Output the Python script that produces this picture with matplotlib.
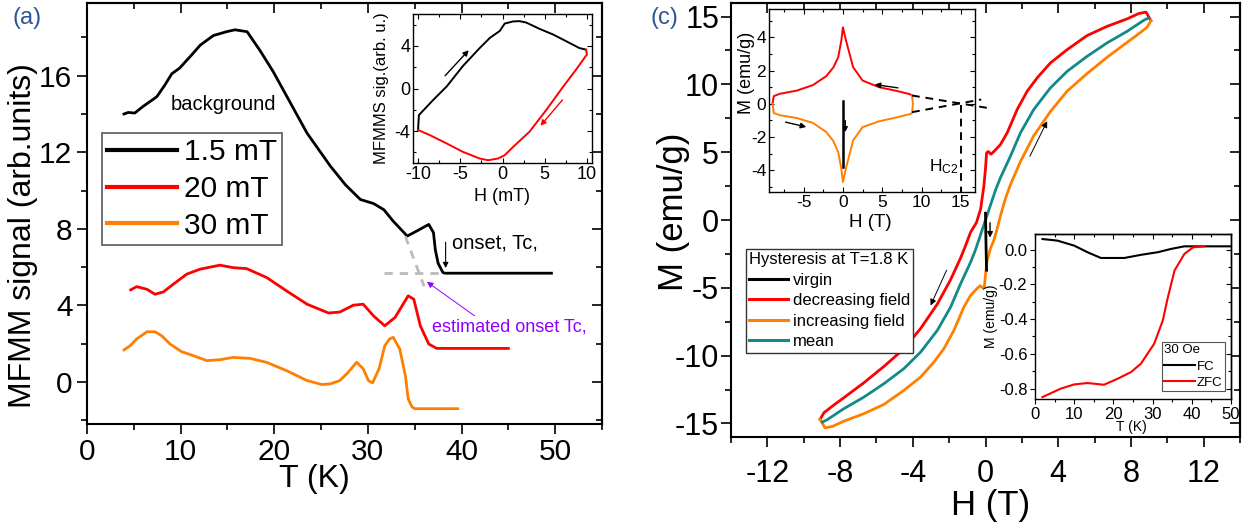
import matplotlib
matplotlib.use('Agg')
import matplotlib.pyplot as plt
from matplotlib.ticker import MultipleLocator

plt.rcParams['font.family'] = ['Liberation Sans', 'DejaVu Sans']
plt.rcParams['mathtext.default'] = 'regular'
plt.rcParams['axes.unicode_minus'] = False

# ---------------- data: panel (a) ----------------
T_15 = [3.95, 4.4, 5.1, 6.0, 7.45, 8.3, 9.05, 9.9, 11.2, 12.1, 13.5, 14.9, 15.8, 17.1,
        18.5, 19.9, 21.7, 23.5, 26.0, 27.6, 29.2, 30.6, 31.7, 32.7, 34.2, 35.2, 36.5,
        37.0, 37.2, 37.5, 38.0, 38.2, 40.0, 45.0, 49.6]
S_15 = [14.0, 14.08, 14.05, 14.4, 14.9, 15.5, 16.1, 16.4, 17.1, 17.6, 18.1, 18.3, 18.4, 18.3,
        17.3, 16.2, 14.6, 13.0, 11.27, 10.3, 9.53, 9.32, 9.0, 8.4, 7.62, 7.88, 8.23,
        7.8, 6.9, 6.2, 5.72, 5.68, 5.68, 5.68, 5.68]
T_20 = [4.67, 5.3, 6.4, 7.26, 8.15, 9.2, 10.65, 12.07, 14.2, 15.6, 17.05, 19.2, 21.3, 23.5,
        25.8, 27.0, 28.45, 29.5, 30.6, 31.8, 32.9, 34.3, 34.9, 35.6, 36.5, 37.35, 40.0, 45.0]
S_20 = [4.81, 4.98, 4.84, 4.58, 4.7, 5.1, 5.63, 5.89, 6.1, 5.97, 5.92, 5.45, 4.76, 4.06,
        3.6, 3.65, 4.01, 4.06, 3.45, 2.93, 3.37, 4.5, 4.32, 2.93, 1.98, 1.75, 1.75, 1.75]
T_30 = [3.95, 4.6, 5.3, 6.4, 7.26, 7.98, 8.87, 10.1, 11.36, 12.8, 14.2, 15.6, 17.4, 19.2,
        21.3, 23.5, 25.1, 26.0, 27.0, 27.9, 28.8, 29.5, 30.05, 30.5, 31.2, 31.8, 32.3,
        32.7, 33.4, 34.0, 34.3, 34.7, 35.0, 36.0, 39.6]
S_30 = [1.67, 1.89, 2.24, 2.62, 2.62, 2.41, 1.98, 1.58, 1.37, 1.11, 1.16, 1.28, 1.23, 1.02,
        0.59, 0.07, -0.14, -0.1, 0.07, 0.5, 1.03, 0.68, 0.07, -0.05, 0.7, 1.89, 2.24,
        2.33, 1.72, 0.33, -0.89, -1.3, -1.4, -1.4, -1.4]
GUIDE_H_T = [31.7, 37.7]
GUIDE_H_S = [5.68, 5.68]
GUIDE_D_T = [34.0, 36.0]
GUIDE_D_S = [7.6, 5.0]
LEG_A = ['1.5 mT', '20 mT', '30 mT']

# ---------------- data: inset (b) ----------------
HB_up = [-10.0, -9.9, -8.2, -6.6, -4.7, -2.7, -1.5, -0.7, -0.33, 0.26, 1.24, 2.0, 2.8,
         4.4, 6.0, 7.55, 9.1, 9.9]
SB_up = [-3.9, -2.5, -1.07, 0.2, 2.1, 3.8, 4.75, 5.2, 5.4, 6.1, 6.3, 6.33, 6.2,
         5.6, 5.07, 4.44, 3.8, 3.65]
HB_dn = [9.9, 10.0, 8.7, 7.2, 5.2, 3.2, 1.24, 0.26, -0.53, -1.7, -2.7, -4.7, -6.6, -8.6, -10.0]
SB_dn = [3.65, 3.2, 1.76, 0.19, -2.0, -4.06, -5.5, -6.27, -6.58, -6.74, -6.58, -5.95,
         -5.17, -4.38, -3.9]

# ---------------- data: panel (c) ----------------
H_dec = [9.1, 8.83, 8.42, 7.79, 6.69, 5.59, 4.49, 3.57, 2.84, 2.29, 1.74, 1.19, 0.82, 0.5,
         0.3, 0.15, 0.06, 0.0, -0.09, -0.27, -0.5, -0.82, -1.1, -1.37, -1.92, -2.65, -3.57,
         -4.49, -5.59, -6.69, -7.79, -8.3, -8.88, -9.1]
M_dec = [14.7, 15.33, 15.22, 14.83, 14.28, 13.6, 12.56, 11.58, 10.48, 9.49, 8.14, 6.42, 5.56, 5.1,
         4.85, 5.05, 4.95, 3.8, 2.5, 0.8, -0.2, -0.9, -1.9, -2.8, -4.4, -6.2, -8.0,
         -9.5, -10.8, -12.0, -13.1, -13.6, -14.2, -14.7]
H_inc = [-9.1, -8.83, -8.42, -7.79, -6.69, -5.59, -4.49, -3.57, -2.84, -2.29, -1.74, -1.19,
         -0.82, -0.5, -0.3, -0.15, -0.06, 0.0, 0.09, 0.27, 0.46, 0.65, 0.82, 1.1, 1.37, 1.92,
         2.65, 3.57, 4.49, 5.59, 6.69, 7.79, 8.3, 8.88, 9.1]
M_inc = [-14.7, -15.33, -15.22, -14.83, -14.28, -13.6, -12.56, -11.58, -10.48, -9.49, -8.14, -6.42,
         -5.56, -5.1, -4.85, -5.0, -4.9, -4.0, -3.0, -2.1, -1.5, -0.6, 0.3, 1.6, 2.6, 4.3,
         6.2, 8.0, 9.5, 10.8, 12.0, 13.1, 13.6, 14.2, 14.7]
H_mean = [-8.97, -8.7, -7.79, -6.69, -5.59, -4.49, -3.57, -2.65, -1.92, -1.37, -0.82, -0.55,
          -0.3, 0.0, 0.3, 0.55, 0.82, 1.37, 1.92, 2.65, 3.57, 4.49, 5.59, 6.69, 7.79, 8.7, 8.97]
M_mean = [-14.9, -14.72, -13.91, -13.06, -12.07, -10.96, -9.74, -8.14, -6.42, -4.7, -3.11, -2.2,
          -1.2, 0.0, 1.2, 2.2, 3.11, 4.7, 6.42, 8.14, 9.74, 10.96, 12.07, 13.06, 13.91, 14.72, 14.9]
H_vir = [0.0, 0.02, 0.04, 0.06]
M_vir = [0.5, -1.2, -2.6, -3.7]
LEG_C = ['virgin', 'decreasing field', 'increasing field', 'mean']

# ---------------- data: inset (d) ----------------
HD_dec = [8.8, 8.5, 6.8, 4.6, 2.5, 1.3, 0.4, 0.0, -0.2, -0.6, -1.2, -2.1, -3.8, -5.9, -8.05,
          -8.8, -8.95]
MD_dec = [0.5, 0.58, 0.78, 1.0, 1.4, 2.2, 3.8, 4.6, 3.8, 2.8, 2.2, 1.67, 1.13, 0.79, 0.6,
          0.46, 0.0]
HD_inc = [-8.95, -8.8, -8.05, -5.9, -3.8, -2.1, -1.2, -0.6, -0.2, 0.0, 0.4, 1.3, 2.5, 4.6,
          6.8, 8.5, 8.8, 8.9, 8.8]
MD_inc = [0.0, -0.55, -0.68, -0.85, -1.15, -1.7, -2.25, -2.9, -3.9, -4.7, -3.85, -2.2, -1.4,
          -1.05, -0.82, -0.62, -0.55, 0.0, 0.5]
HD_vir = [0.0, 0.0]
MD_vir = [0.15, -3.8]
HC2_UP_H = [8.79, 18.3]
HC2_UP_M = [0.5, -0.24]
HC2_LO_H = [8.79, 17.6]
HC2_LO_M = [-0.5, 0.26]
HC2_V_H = [15.0, 15.0]
HC2_V_M = [-0.05, -5.3]

# ---------------- data: inset (e) ----------------
T_FC = [1.9, 5.7, 10.0, 13.4, 16.8, 22.8, 27.0, 31.3, 34.7, 38.1, 50.0]
M_FC = [0.061, 0.052, 0.023, -0.015, -0.048, -0.048, -0.03, -0.015, 0.004, 0.019, 0.019]
T_ZFC = [1.9, 6.6, 10.0, 13.4, 17.6, 21.1, 24.5, 27.0, 30.4, 32.6, 33.9, 35.6, 38.1, 40.3, 43.2]
M_ZFC = [-0.849, -0.80, -0.776, -0.768, -0.778, -0.743, -0.705, -0.657, -0.542, -0.408,
         -0.274, -0.12, -0.025, 0.013, 0.019]
LEG_E = ['FC', 'ZFC']

RED = '#ff0000'
ORANGE = '#ff8000'
TEAL = '#13898a'
PURPLE = '#8f00ff'
BLUE = '#2f5597'
W, H = 1248, 529

fig = plt.figure(figsize=(W / 100, H / 100), dpi=100)


def rect(l, t, r, b):
    return [l / W, 1 - b / H, (r - l) / W, (b - t) / H]


def style(ax, xmaj, xmin, ymaj, ymin, lab, mlen, nlen, tw, sw, xpad, ypad, inward):
    for s in ax.spines.values():
        s.set_linewidth(sw)
    ax.xaxis.set_major_locator(MultipleLocator(xmaj))
    ax.xaxis.set_minor_locator(MultipleLocator(xmin))
    ax.yaxis.set_major_locator(MultipleLocator(ymaj))
    ax.yaxis.set_minor_locator(MultipleLocator(ymin))
    d = 'in' if inward else 'out'
    ax.tick_params(which='both', direction=d, width=tw, labelsize=lab)
    ax.tick_params(which='major', length=mlen)
    ax.tick_params(which='minor', length=nlen)
    ax.tick_params(axis='x', pad=xpad)
    ax.tick_params(axis='y', pad=ypad)
    if inward:
        ax.tick_params(which='both', top=True, right=True)
    else:
        sx = ax.secondary_xaxis('top')
        sx.xaxis.set_major_locator(MultipleLocator(xmaj))
        sx.xaxis.set_minor_locator(MultipleLocator(xmin))
        sx.tick_params(which='both', direction='in', width=tw, labeltop=False)
        sx.tick_params(which='major', length=mlen)
        sx.tick_params(which='minor', length=nlen)
        sx.spines['top'].set_linewidth(sw)
        sy = ax.secondary_yaxis('right')
        sy.yaxis.set_major_locator(MultipleLocator(ymaj))
        sy.yaxis.set_minor_locator(MultipleLocator(ymin))
        sy.tick_params(which='both', direction='in', width=tw, labelright=False)
        sy.tick_params(which='major', length=mlen)
        sy.tick_params(which='minor', length=nlen)
        sy.spines['right'].set_linewidth(sw)


def arrow(ax, head, tail, color='black', lw=0.8, ms=9):
    ax.annotate('', xy=head, xytext=tail,
                arrowprops=dict(arrowstyle='-|>', color=color, lw=lw,
                                mutation_scale=ms, shrinkA=0, shrinkB=0))


# ================= panel (a) =================
ax_a = fig.add_axes(rect(87, 3, 602, 424))
la1, = ax_a.plot(T_15, S_15, color='black', lw=2.0)
la2, = ax_a.plot(T_20, S_20, color=RED, lw=2.0)
la3, = ax_a.plot(T_30, S_30, color=ORANGE, lw=2.0)
ax_a.plot(GUIDE_H_T, GUIDE_H_S, color='#bbbbbb', lw=2, dashes=(3, 2.5))
ax_a.plot(GUIDE_D_T, GUIDE_D_S, color='#bbbbbb', lw=2, dashes=(3, 2.5))
ax_a.set_xlim(0, 55)
ax_a.set_ylim(-2.2, 19.8)
style(ax_a, 10, 5, 4, 2, 21.5, 7, 4, 1.2, 1.5, 3, 3.5, False)
ax_a.set_xlabel('T (K)', fontsize=23)
ax_a.xaxis.set_label_coords(0.442, -0.095)
ax_a.set_ylabel('MFMM signal (arb.units)', fontsize=23)
ax_a.yaxis.set_label_coords(-0.095, 0.447)
ax_a.text(8.9, 14.5, 'background', fontsize=14.5, ha='left', va='center')
ax_a.text(38.95, 7.25, 'onset, Tc,', fontsize=14.5, ha='left', va='center')
arrow(ax_a, (38.3, 5.95), (38.3, 7.3), lw=0.8, ms=8)
ax_a.text(36.8, 2.86, 'estimated onset Tc,', fontsize=13, color=PURPLE,
          ha='left', va='center')
arrow(ax_a, (36.3, 5.23), (41.4, 3.45), color=PURPLE, lw=0.7, ms=9)
leg_a = ax_a.legend([la1, la2, la3], LEG_A, loc='upper left',
                    bbox_to_anchor=(0.0285, 0.6905), borderaxespad=0, fontsize=21.5,
                    handlelength=2.35, handletextpad=0.25, labelspacing=0.29,
                    borderpad=0.17, fancybox=False, edgecolor='#666666', framealpha=1)
leg_a.get_frame().set_linewidth(1.3)
for ln in leg_a.get_lines():
    ln.set_linewidth(3)
fig.text(12 / W, 1 - 18 / H, '(a)', fontsize=17, color=BLUE, ha='left', va='center')

# ================= panel (c) =================
ax_c = fig.add_axes(rect(731, 3, 1240, 437))
lc2, = ax_c.plot(H_dec, M_dec, color=RED, lw=2.0)
lc3, = ax_c.plot(H_inc, M_inc, color=ORANGE, lw=2.0)
lc4, = ax_c.plot(H_mean, M_mean, color=TEAL, lw=2.0)
lc1, = ax_c.plot(H_vir, M_vir, color='black', lw=2.0)
ax_c.set_xlim(-14, 14)
ax_c.set_ylim(-16, 16)
style(ax_c, 4, 2, 5, 2.5, 22, 7, 4, 1.2, 1.5, 9, 1.5, False)
ax_c.set_xlabel('H (T)', fontsize=25)
ax_c.xaxis.set_label_coords(0.51, -0.12)
ax_c.set_ylabel('M (emu/g)', fontsize=25)
ax_c.yaxis.set_label_coords(-0.08, 0.518)
arrow(ax_c, (3.39, 7.28), (2.44, 4.7), lw=0.7, ms=9)
arrow(ax_c, (-3.02, -6.3), (-2.14, -3.7), lw=0.7, ms=9)
arrow(ax_c, (0.25, -1.3), (0.25, -0.2), lw=1.0, ms=8)
leg_c = ax_c.legend([lc1, lc2, lc3, lc4], LEG_C, loc='upper left',
                    bbox_to_anchor=(0.0295, 0.4332), borderaxespad=0, fontsize=12,
                    title='Hysteresis at T=1.8 K', title_fontsize=12, alignment='left',
                    handlelength=2.3, handletextpad=0.3, labelspacing=0.33,
                    borderpad=0.2, fancybox=False, edgecolor='#333333', framealpha=1)
leg_c.get_frame().set_linewidth(1.0)
for ln in leg_c.get_lines():
    ln.set_linewidth(2.2)
fig.text(650 / W, 1 - 18 / H, '(c)', fontsize=17, color=BLUE, ha='left', va='center')

# ================= inset (b) =================
ax_b = fig.add_axes(rect(413, 14, 592, 163))
ax_b.set_zorder(5)
ax_b.plot(HB_up, SB_up, color='black', lw=1.4)
ax_b.plot(HB_dn, SB_dn, color=RED, lw=1.4)
ax_b.set_xlim(-10.6, 10.6)
ax_b.set_ylim(-7, 7)
style(ax_b, 5, 2.5, 4, 2, 13, 3.5, 2, 0.8, 1.0, 2, 2, True)
ax_b.set_xlabel('H (mT)', fontsize=13)
ax_b.xaxis.set_label_coords(0.5, -0.165)
ax_b.set_ylabel('MFMMS sig.(arb. u.)', fontsize=12)
ax_b.yaxis.set_label_coords(-0.135, 0.5)
arrow(ax_b, (-4.0, 3.6), (-6.8, 1.2), lw=1.0, ms=8)
arrow(ax_b, (4.5, -3.5), (7.1, -1.07), color=RED, lw=1.0, ms=8)
fig.text(427 / W, 1 - 36 / H, '(b)', fontsize=16.5, color=BLUE, ha='left', va='center')

# ================= inset (d) =================
ax_d = fig.add_axes(rect(769, 9, 975, 192))
ax_d.set_zorder(5)
ax_d.plot(HD_dec, MD_dec, color=RED, lw=1.4)
ax_d.plot(HD_inc, MD_inc, color=ORANGE, lw=1.4)
ax_d.plot(HD_vir, MD_vir, color='black', lw=1.8)
for hh, mm in ((HC2_UP_H, HC2_UP_M), (HC2_LO_H, HC2_LO_M), (HC2_V_H, HC2_V_M)):
    ax_d.plot(hh, mm, color='black', lw=1.4, dashes=(4, 3), clip_on=False)
ax_d.set_xlim(-9.4, 16.8)
ax_d.set_ylim(-5.3, 5.7)
style(ax_d, 5, 2.5, 2, 1, 12.5, 3.5, 2, 0.8, 1.0, 2, 2, True)
ax_d.set_xlabel('H (T)', fontsize=13.5)
ax_d.xaxis.set_label_coords(0.494, -0.12)
ax_d.set_ylabel('M (emu/g)', fontsize=13)
ax_d.yaxis.set_label_coords(-0.07, 0.652)
arrow(ax_d, (4.04, 1.16), (7.0, 0.96), lw=1.0, ms=8)
arrow(ax_d, (-4.66, -1.39), (-7.3, -1.1), lw=1.0, ms=8)
arrow(ax_d, (0.3, -1.7), (0.3, -1.0), lw=1.0, ms=7)
ax_d.text(10.9, -3.8, 'H$_{C2}$', fontsize=12.5, ha='left', va='center')
fig.text(783 / W, 1 - 35 / H, '(d)', fontsize=16.5, color=BLUE, ha='left', va='center')

# ================= inset (e) =================
ax_e = fig.add_axes(rect(1035, 234, 1231, 399))
ax_e.set_zorder(5)
le1, = ax_e.plot(T_FC, M_FC, color='black', lw=1.5)
le2, = ax_e.plot(T_ZFC, M_ZFC, color=RED, lw=1.5)
ax_e.set_xlim(0, 50)
ax_e.set_ylim(-0.86, 0.09)
style(ax_e, 10, 5, 0.2, 0.1, 12, 3.5, 2, 0.8, 1.0, 2, 2, False)
ax_e.set_xlabel('T (K)', fontsize=10)
ax_e.xaxis.set_label_coords(0.49, -0.13)
ax_e.set_ylabel('M (emu/g)', fontsize=10)
ax_e.yaxis.set_label_coords(-0.19, 0.5)
leg_e = ax_e.legend([le1, le2], LEG_E, loc='upper left',
                    bbox_to_anchor=(0.646, 0.347), borderaxespad=0, fontsize=9.5,
                    title='30 Oe', title_fontsize=9.5, alignment='left',
                    handlelength=2.3, handletextpad=0.15, labelspacing=0.3,
                    borderpad=0.2, fancybox=False, edgecolor='#555555', framealpha=1)
leg_e.get_frame().set_linewidth(0.8)
fig.text(1047 / W, 1 - 269 / H, '(e)', fontsize=16.5, color=BLUE, ha='left', va='center')

fig.savefig('out.png', dpi=100)
